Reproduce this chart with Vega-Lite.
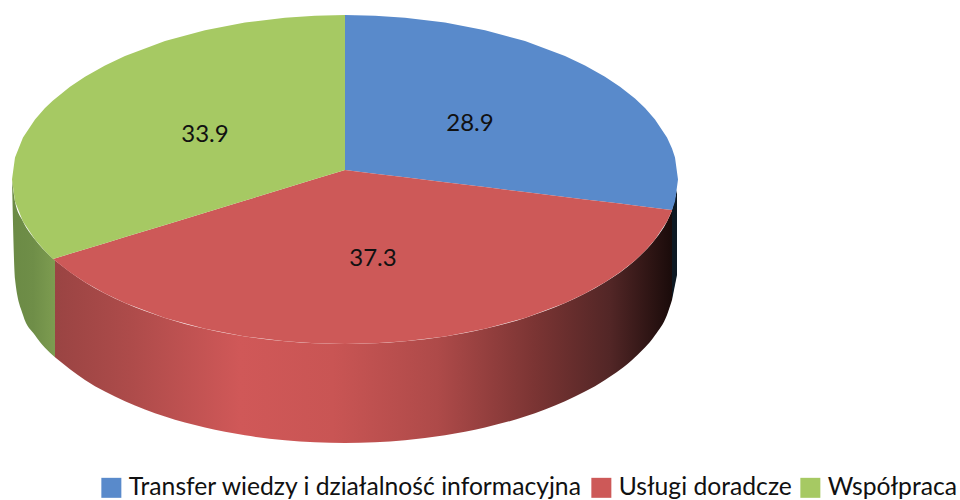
{"$schema":"https://vega.github.io/schema/vega-lite/v6.json","width":960,"height":500,"padding":0,"autosize":"none","background":"white","view":{"stroke":null},
"datasets":{
"top":[
{"slice":"Transfer wiedzy i działalność informacyjna","x":345,"y":15,"y2":170},{"slice":"Transfer wiedzy i działalność informacyjna","x":375,"y":15.7,"y2":173.7},{"slice":"Transfer wiedzy i działalność informacyjna","x":405,"y":17.7,"y2":177.3},{"slice":"Transfer wiedzy i działalność informacyjna","x":445,"y":22.6,"y2":182.2},{"slice":"Transfer wiedzy i działalność informacyjna","x":485,"y":30.2,"y2":187.1},{"slice":"Transfer wiedzy i działalność informacyjna","x":525,"y":41.1,"y2":192},{"slice":"Transfer wiedzy i działalność informacyjna","x":565,"y":56,"y2":196.9},{"slice":"Transfer wiedzy i działalność informacyjna","x":585,"y":65.5,"y2":199.4},{"slice":"Transfer wiedzy i działalność informacyjna","x":605,"y":76.7,"y2":201.8},{"slice":"Transfer wiedzy i działalność informacyjna","x":620,"y":86.7,"y2":203.6},{"slice":"Transfer wiedzy i działalność informacyjna","x":635,"y":98.6,"y2":205.5},{"slice":"Transfer wiedzy i działalność informacyjna","x":645,"y":108.1,"y2":206.7},{"slice":"Transfer wiedzy i działalność informacyjna","x":655,"y":119.4,"y2":207.9},{"slice":"Transfer wiedzy i działalność informacyjna","x":667,"y":137.6,"y2":209.4},{"slice":"Transfer wiedzy i działalność informacyjna","x":672,"y":148.4,"y2":210},{"slice":"Transfer wiedzy i działalność informacyjna","x":675,"y":157.5,"y2":201.5},{"slice":"Transfer wiedzy i działalność informacyjna","x":678,"y":179.5,"y2":179.5},
{"slice":"Usługi doradcze","x":53,"y":259,"y2":259},{"slice":"Usługi doradcze","x":70,"y":253.8,"y2":272.3},{"slice":"Usługi doradcze","x":85,"y":249.2,"y2":282.2},{"slice":"Usługi doradcze","x":105,"y":243.2,"y2":293.5},{"slice":"Usługi doradcze","x":125,"y":237,"y2":303},{"slice":"Usługi doradcze","x":165,"y":224.9,"y2":317.9},{"slice":"Usługi doradcze","x":205,"y":212.7,"y2":328.8},{"slice":"Usługi doradcze","x":245,"y":200.5,"y2":336.4},{"slice":"Usługi doradcze","x":285,"y":188.3,"y2":341.3},{"slice":"Usługi doradcze","x":315,"y":179.1,"y2":343.3},{"slice":"Usługi doradcze","x":345,"y":170,"y2":344},{"slice":"Usługi doradcze","x":375,"y":173.7,"y2":343.3},{"slice":"Usługi doradcze","x":405,"y":177.3,"y2":341.3},{"slice":"Usługi doradcze","x":445,"y":182.2,"y2":336.4},{"slice":"Usługi doradcze","x":485,"y":187.1,"y2":328.8},{"slice":"Usługi doradcze","x":525,"y":192,"y2":317.9},{"slice":"Usługi doradcze","x":565,"y":196.9,"y2":303},{"slice":"Usługi doradcze","x":585,"y":199.4,"y2":293.5},{"slice":"Usługi doradcze","x":605,"y":201.8,"y2":282.2},{"slice":"Usługi doradcze","x":620,"y":203.6,"y2":272.3},{"slice":"Usługi doradcze","x":635,"y":205.5,"y2":260.4},{"slice":"Usługi doradcze","x":645,"y":206.7,"y2":250.9},{"slice":"Usługi doradcze","x":655,"y":207.9,"y2":239.6},{"slice":"Usługi doradcze","x":667,"y":209.4,"y2":221.4},{"slice":"Usługi doradcze","x":672,"y":210,"y2":210.5},
{"slice":"Współpraca","x":12,"y":179.5,"y2":179.5},{"slice":"Współpraca","x":15,"y":157.5,"y2":201.5},{"slice":"Współpraca","x":23,"y":137.6,"y2":221.4},{"slice":"Współpraca","x":35,"y":119.4,"y2":239.6},{"slice":"Współpraca","x":45,"y":108.1,"y2":250.9},{"slice":"Współpraca","x":53,"y":100.4,"y2":259},{"slice":"Współpraca","x":70,"y":86.7,"y2":253.8},{"slice":"Współpraca","x":85,"y":76.7,"y2":249.2},{"slice":"Współpraca","x":105,"y":65.5,"y2":243.2},{"slice":"Współpraca","x":125,"y":56,"y2":237},{"slice":"Współpraca","x":165,"y":41.1,"y2":224.9},{"slice":"Współpraca","x":205,"y":30.2,"y2":212.7},{"slice":"Współpraca","x":245,"y":22.6,"y2":200.5},{"slice":"Współpraca","x":285,"y":17.7,"y2":188.3},{"slice":"Współpraca","x":315,"y":15.7,"y2":179.1},{"slice":"Współpraca","x":345,"y":15,"y2":170}
],
"wallRed":[{"x":55,"y":260.4,"y2":357.3},{"x":85,"y":282.2,"y2":380},{"x":125,"y":303,"y2":401.2},{"x":165,"y":317.9,"y2":416.5},{"x":205,"y":328.8,"y2":427.5},{"x":245,"y":336.4,"y2":435.3},{"x":285,"y":341.3,"y2":440.3},{"x":315,"y":343.3,"y2":442.3},{"x":345,"y":344,"y2":443},{"x":375,"y":343.3,"y2":442.3},{"x":405,"y":341.3,"y2":440.3},{"x":445,"y":336.4,"y2":435.3},{"x":485,"y":328.8,"y2":427.5},{"x":525,"y":317.9,"y2":416.5},{"x":565,"y":303,"y2":401.2},{"x":605,"y":282.2,"y2":380},{"x":635,"y":260.4,"y2":357.3},{"x":655,"y":239.6,"y2":335.2},{"x":667,"y":221.4,"y2":314.9},{"x":672,"y":210.5,"y2":300}],
"wallGreen":[{"x":12,"y":179.5,"y2":179.5},{"x":15,"y":201.5,"y2":279},{"x":23,"y":221.4,"y2":314.9},{"x":35,"y":239.6,"y2":335.2},{"x":55,"y":260.4,"y2":357.3}],
"wallBlue":[{"x":672,"y":210,"y2":300},{"x":675,"y":198,"y2":285},{"x":677,"y":190,"y2":275}],
"labels":[{"slice":"Transfer wiedzy i działalność informacyjna","share":28.9,"x":470,"y":124},{"slice":"Usługi doradcze","share":37.3,"x":373,"y":259},{"slice":"Współpraca","share":33.9,"x":205,"y":135}]
},
"encoding":{"x":{"field":"x","type":"quantitative","axis":null,"scale":{"domain":[0,960],"nice":false,"zero":false}},"y":{"field":"y","type":"quantitative","axis":null,"scale":{"domain":[500,0],"nice":false,"zero":false}}},
"layer":[
{"data":{"name":"wallRed"},"mark":{"type":"area","interpolate":"monotone","color":{"gradient":"linear","x1":0,"y1":0,"x2":1,"y2":0,"stops":[{"offset":0,"color":"#9a4443"},{"offset":0.12,"color":"#ad4b4a"},{"offset":0.3,"color":"#d05858"},{"offset":0.45,"color":"#c95554"},{"offset":0.62,"color":"#ae4a49"},{"offset":0.78,"color":"#7a3433"},{"offset":0.9,"color":"#522626"},{"offset":1,"color":"#1a0b0a"}]}},"encoding":{"y2":{"field":"y2"}}},
{"data":{"name":"wallGreen"},"mark":{"type":"area","interpolate":"monotone","color":{"gradient":"linear","x1":0,"y1":0,"x2":1,"y2":0,"stops":[{"offset":0,"color":"#6b8a45"},{"offset":0.5,"color":"#6f8e48"},{"offset":1,"color":"#7d9c50"}]}},"encoding":{"y2":{"field":"y2"}}},
{"data":{"name":"wallBlue"},"mark":{"type":"area","color":"#0d1822"},"encoding":{"y2":{"field":"y2"}}},
{"data":{"name":"top"},"mark":{"type":"area","opacity":1},"encoding":{"y2":{"field":"y2"},"color":{"field":"slice","type":"nominal","scale":{"domain":["Transfer wiedzy i działalność informacyjna","Usługi doradcze","Współpraca"],"range":["#598acb","#cd5958","#a6c963"]},"legend":{"title":null,"orient":"none","legendX":99,"legendY":475,"direction":"horizontal","columns":3,"symbolType":"square","symbolSize":400,"symbolStrokeWidth":0,"symbolOpacity":1,"labelFont":"Lato","labelFontSize":24.7,"labelColor":"#111111","labelLimit":600,"columnPadding":6,"labelOffset":5,"padding":0}}}},
{"data":{"name":"labels"},"mark":{"type":"text","font":"Lato","fontSize":24,"color":"#111111"},"encoding":{"text":{"field":"share","type":"quantitative","format":".1f"}}}
]}
